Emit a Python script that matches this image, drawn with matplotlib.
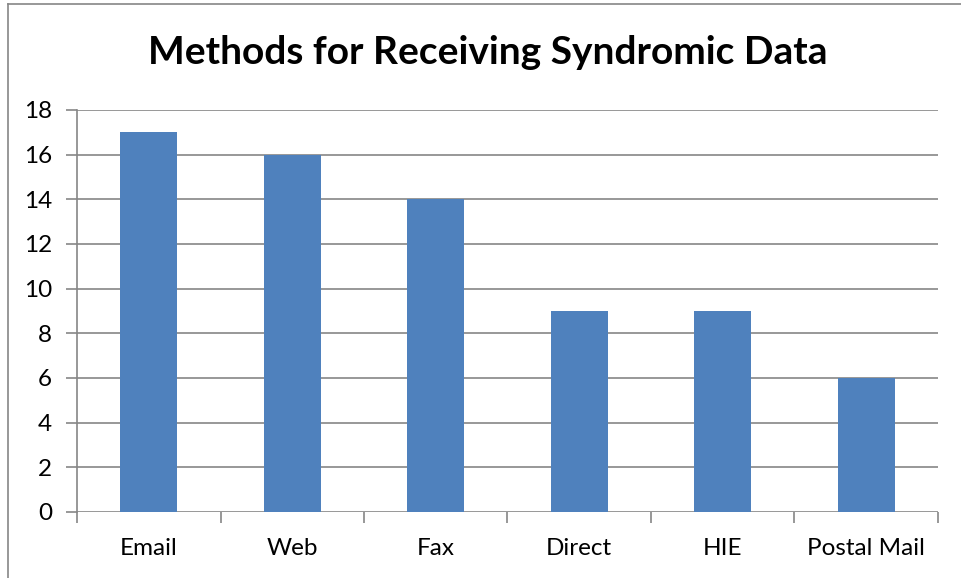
import matplotlib.pyplot as plt
from matplotlib.lines import Line2D

methods = ["Email", "Web", "Fax", "Direct", "HIE", "Postal Mail"]
counts = [17, 16, 14, 9, 9, 6]
y_ticks = [0, 2, 4, 6, 8, 10, 12, 14, 16, 18]

W, H = 962, 578
plt.rcParams["font.family"] = ["Lato", "DejaVu Sans"]

fig = plt.figure(figsize=(W / 100, H / 100), dpi=100)
ax = fig.add_axes([77 / W, 1 - 512 / H, (938 - 77) / W, (512 - 110) / H])

positions = list(range(len(methods)))
ax.bar(positions, counts, width=0.4, color="#4F81BD", zorder=3)

ax.set_xlim(-0.5, len(methods) - 0.5)
ax.set_ylim(0, 18)
ax.set_yticks(y_ticks)
ax.set_xticks(positions)
ax.set_xticklabels(methods)
ax.set_xticks([p - 0.5 for p in range(len(methods) + 1)], minor=True)

grid_color = "#868686"
for y in y_ticks:
    ax.axhline(y, color=grid_color, linewidth=1.2, zorder=1)

for side in ["top", "right", "bottom"]:
    ax.spines[side].set_visible(False)
ax.spines["left"].set_color(grid_color)
ax.spines["left"].set_linewidth(1.2)

ax.tick_params(axis="y", length=8, width=1.2, color=grid_color,
               labelsize=17.5, pad=10)
ax.tick_params(axis="x", which="major", length=0, labelsize=17.5, pad=19)
ax.tick_params(axis="x", which="minor", length=8, width=1.2, color=grid_color)

fig.text(488 / W, 1 - 52 / H, "Methods for Receiving Syndromic Data",
         ha="center", va="center", fontsize=28, fontweight="bold")

# outer chart border (left and top edges visible)
fig.add_artist(Line2D([8 / W, 8 / W], [0, 1 - 4 / H], transform=fig.transFigure,
                      color=grid_color, linewidth=1.2))
fig.add_artist(Line2D([8 / W, 1], [1 - 4 / H, 1 - 4 / H], transform=fig.transFigure,
                      color=grid_color, linewidth=1.2))

fig.savefig("out.png", dpi=100)
